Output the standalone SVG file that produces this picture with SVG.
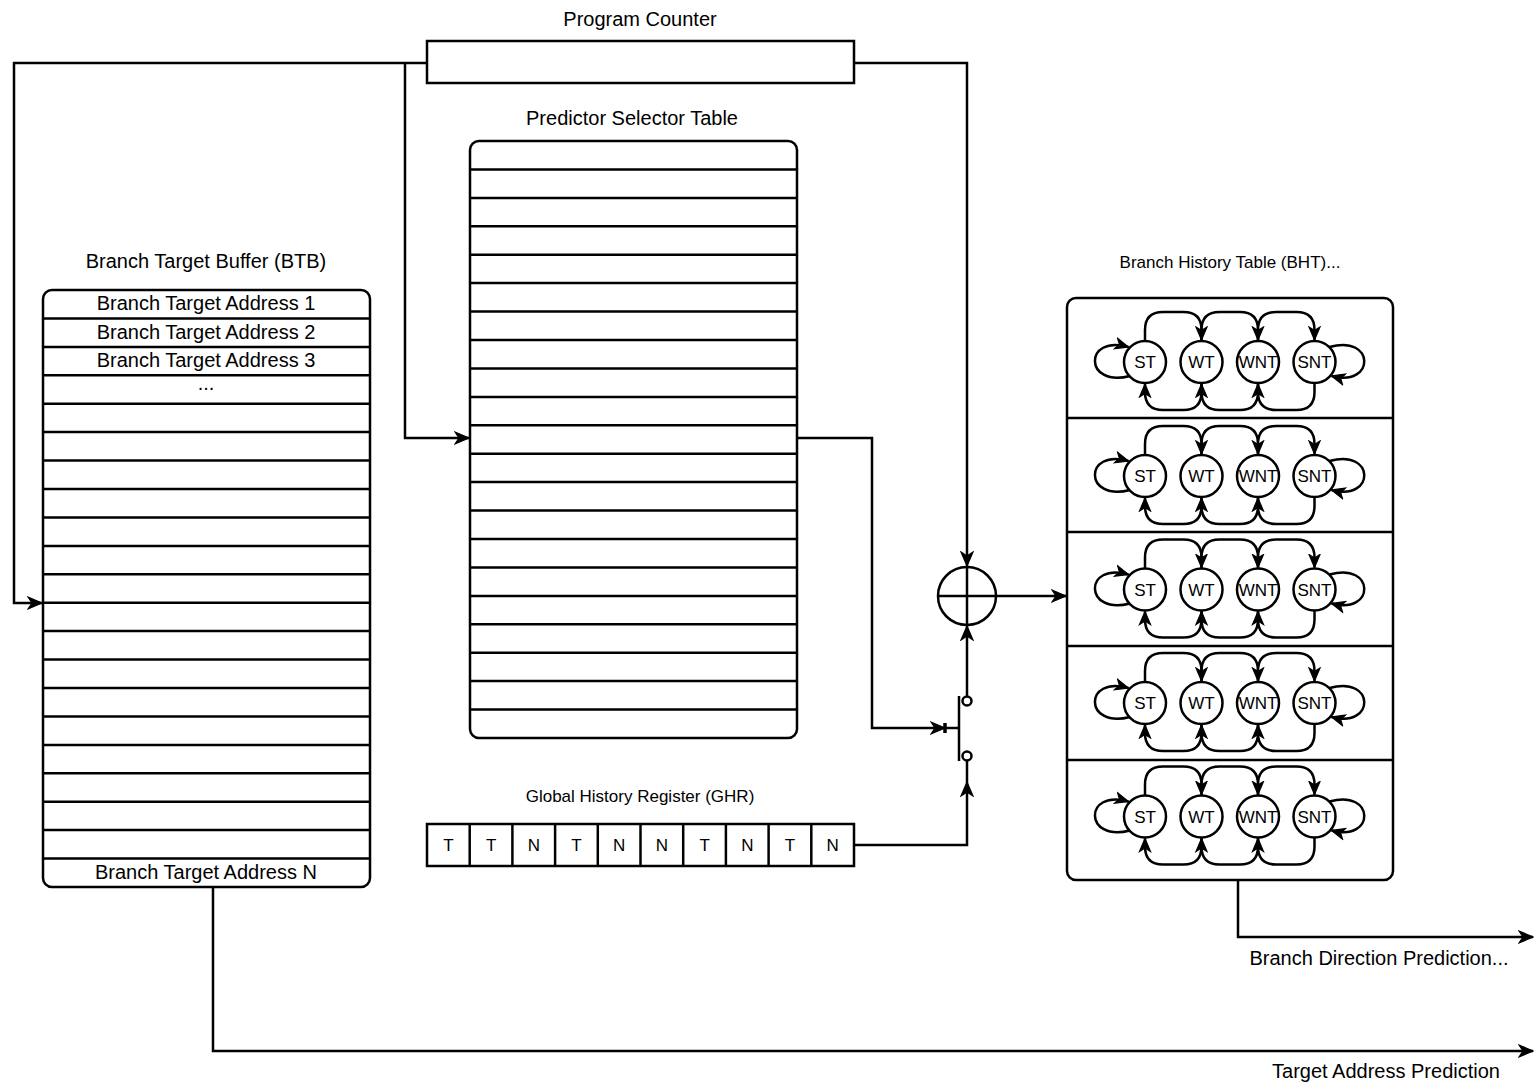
<svg xmlns="http://www.w3.org/2000/svg" width="1534" height="1083" viewBox="0 0 1534 1083">
<style>
.box{fill:#fff;stroke:#000;stroke-width:2.5}
.ln{fill:none;stroke:#000;stroke-width:2.5}
.row{stroke:#000;stroke-width:2.5}
.t20{font-family:"Liberation Sans",Arial,sans-serif;font-size:20px;text-anchor:middle;fill:#000}
.t17{font-family:"Liberation Sans",Arial,sans-serif;font-size:17px;text-anchor:middle;fill:#000}
.st{fill:#fff;stroke:#000;stroke-width:2.5}
</style>
<defs>
<marker id="arr" markerUnits="userSpaceOnUse" markerWidth="18" markerHeight="16" refX="15" refY="8" orient="auto">
<path d="M1,2 L15,8 L1,14 L5,8 Z" fill="#000" stroke="#000" stroke-width="1.2"/>
</marker>
<marker id="arrs" markerUnits="userSpaceOnUse" markerWidth="16" markerHeight="16" refX="14" refY="8" orient="auto">
<path d="M1,2.5 L14,8 L1,13.5 L4.5,8 Z" fill="#000" stroke="#000" stroke-width="1.2"/>
</marker>
<g id="fsm">
<path class="ln" d="M-56.5,-21 V-32 Q-56.5,-50 -38.5,-50 H-18 Q0,-50 0,-32 V-22" marker-end="url(#arrs)"/>
<path class="ln" d="M0,-21 V-32 Q0,-50 18,-50 H38.5 Q56.5,-50 56.5,-32 V-22" marker-end="url(#arrs)"/>
<path class="ln" d="M56.5,-21 V-32 Q56.5,-50 74.5,-50 H95 Q113,-50 113,-32 V-22" marker-end="url(#arrs)"/>
<path class="ln" d="M0,21 V30 Q0,48 -18,48 H-38.5 Q-56.5,48 -56.5,30 V22" marker-end="url(#arrs)"/>
<path class="ln" d="M56.5,21 V30 Q56.5,48 38.5,48 H18 Q0,48 0,30 V22" marker-end="url(#arrs)"/>
<path class="ln" d="M113,21 V30 Q113,48 95,48 H74.5 Q56.5,48 56.5,30 V22" marker-end="url(#arrs)"/>
<path class="ln" d="M-71.5,14 C-118,26 -118,-28 -73,-15" marker-end="url(#arrs)"/>
<path class="ln" d="M128,-15 C174,-28 174,26 130,14" marker-end="url(#arrs)"/>
<circle class="st" cx="-56.5" cy="0" r="21"/>
<circle class="st" cx="0" cy="0" r="21"/>
<circle class="st" cx="56.5" cy="0" r="21"/>
<circle class="st" cx="113" cy="0" r="21"/>
<text class="t17" x="-56.5" y="6">ST</text>
<text class="t17" x="0" y="6">WT</text>
<text class="t17" x="56.5" y="6">WNT</text>
<text class="t17" x="113" y="6">SNT</text>
</g>
</defs>

<g id="connectors">
<path class="ln" d="M427,63 H14 V603 H42" marker-end="url(#arr)"/>
<path class="ln" d="M405,63 V438 H469" marker-end="url(#arr)"/>
<path class="ln" d="M854,63 H967 V566" marker-end="url(#arr)"/>
<path class="ln" d="M797,438 H872 V728 H945" marker-end="url(#arr)"/>
<path class="ln" d="M967,696 V626" marker-end="url(#arr)"/>
<path class="ln" d="M854,845 H967 V782" marker-end="url(#arr)"/>
<path class="ln" d="M996,596 H1066" marker-end="url(#arr)"/>
<path class="ln" d="M1238,880 V937 H1533" marker-end="url(#arr)"/>
<path class="ln" d="M213,887 V1051 H1533" marker-end="url(#arr)"/>
</g>

<g id="program-counter">
<text class="t20" x="640" y="26">Program Counter</text>
<rect class="box" x="427" y="41" width="427" height="42"/>
</g>

<g id="predictor-selector-table">
<text class="t20" x="632" y="125">Predictor Selector Table</text>
<rect class="box" x="470" y="141" width="327" height="597" rx="9"/>
<g class="row">
<line x1="470" y1="169.4" x2="797" y2="169.4"/>
<line x1="470" y1="197.9" x2="797" y2="197.9"/>
<line x1="470" y1="226.3" x2="797" y2="226.3"/>
<line x1="470" y1="254.7" x2="797" y2="254.7"/>
<line x1="470" y1="283.1" x2="797" y2="283.1"/>
<line x1="470" y1="311.6" x2="797" y2="311.6"/>
<line x1="470" y1="340" x2="797" y2="340"/>
<line x1="470" y1="368.4" x2="797" y2="368.4"/>
<line x1="470" y1="396.9" x2="797" y2="396.9"/>
<line x1="470" y1="425.3" x2="797" y2="425.3"/>
<line x1="470" y1="453.7" x2="797" y2="453.7"/>
<line x1="470" y1="482.1" x2="797" y2="482.1"/>
<line x1="470" y1="510.6" x2="797" y2="510.6"/>
<line x1="470" y1="539" x2="797" y2="539"/>
<line x1="470" y1="567.4" x2="797" y2="567.4"/>
<line x1="470" y1="595.9" x2="797" y2="595.9"/>
<line x1="470" y1="624.3" x2="797" y2="624.3"/>
<line x1="470" y1="652.7" x2="797" y2="652.7"/>
<line x1="470" y1="681.1" x2="797" y2="681.1"/>
<line x1="470" y1="709.6" x2="797" y2="709.6"/>
</g>
</g>

<g id="branch-target-buffer">
<text class="t20" x="206" y="268">Branch Target Buffer (BTB)</text>
<rect class="box" x="43" y="290" width="327" height="597" rx="9"/>
<g class="row">
<line x1="43" y1="318.4" x2="370" y2="318.4"/>
<line x1="43" y1="346.9" x2="370" y2="346.9"/>
<line x1="43" y1="375.3" x2="370" y2="375.3"/>
<line x1="43" y1="403.7" x2="370" y2="403.7"/>
<line x1="43" y1="432.1" x2="370" y2="432.1"/>
<line x1="43" y1="460.6" x2="370" y2="460.6"/>
<line x1="43" y1="489" x2="370" y2="489"/>
<line x1="43" y1="517.4" x2="370" y2="517.4"/>
<line x1="43" y1="545.9" x2="370" y2="545.9"/>
<line x1="43" y1="574.3" x2="370" y2="574.3"/>
<line x1="43" y1="602.7" x2="370" y2="602.7"/>
<line x1="43" y1="631.1" x2="370" y2="631.1"/>
<line x1="43" y1="659.6" x2="370" y2="659.6"/>
<line x1="43" y1="688" x2="370" y2="688"/>
<line x1="43" y1="716.4" x2="370" y2="716.4"/>
<line x1="43" y1="744.9" x2="370" y2="744.9"/>
<line x1="43" y1="773.3" x2="370" y2="773.3"/>
<line x1="43" y1="801.7" x2="370" y2="801.7"/>
<line x1="43" y1="830.1" x2="370" y2="830.1"/>
<line x1="43" y1="858.6" x2="370" y2="858.6"/>
</g>
<text class="t20" x="206" y="310">Branch Target Address 1</text>
<text class="t20" x="206" y="339">Branch Target Address 2</text>
<text class="t20" x="206" y="367">Branch Target Address 3</text>
<text class="t20" x="206" y="390">...</text>
<text class="t20" x="206" y="879">Branch Target Address N</text>
</g>

<g id="global-history-register">
<text class="t17" x="640" y="802">Global History Register (GHR)</text>
<rect class="box" x="427" y="824" width="427" height="42"/>
<g class="row">
<line x1="469.7" y1="824" x2="469.7" y2="866"/>
<line x1="512.4" y1="824" x2="512.4" y2="866"/>
<line x1="555.1" y1="824" x2="555.1" y2="866"/>
<line x1="597.8" y1="824" x2="597.8" y2="866"/>
<line x1="640.5" y1="824" x2="640.5" y2="866"/>
<line x1="683.2" y1="824" x2="683.2" y2="866"/>
<line x1="725.9" y1="824" x2="725.9" y2="866"/>
<line x1="768.6" y1="824" x2="768.6" y2="866"/>
<line x1="811.3" y1="824" x2="811.3" y2="866"/>
</g>
<text class="t17" x="448.4" y="851">T</text>
<text class="t17" x="491.1" y="851">T</text>
<text class="t17" x="533.8" y="851">N</text>
<text class="t17" x="576.5" y="851">T</text>
<text class="t17" x="619.2" y="851">N</text>
<text class="t17" x="661.9" y="851">N</text>
<text class="t17" x="704.6" y="851">T</text>
<text class="t17" x="747.3" y="851">N</text>
<text class="t17" x="790" y="851">T</text>
<text class="t17" x="832.7" y="851">N</text>
</g>

<g id="xor">
<circle class="box" cx="967" cy="596" r="29"/>
<line class="ln" x1="938" y1="596" x2="996" y2="596"/>
<line class="ln" x1="967" y1="567" x2="967" y2="625"/>
</g>

<g id="switch">
<line class="ln" x1="959" y1="696" x2="959" y2="761"/>
<line class="ln" x1="945" y1="728" x2="959" y2="728"/>
<line x1="945" y1="723" x2="945" y2="733" stroke="#000" stroke-width="3.5"/>
<line class="ln" x1="967" y1="761" x2="967" y2="782"/>
<circle cx="967" cy="701" r="4.5" fill="#fff" stroke="#000" stroke-width="2.5"/>
<circle cx="967" cy="756" r="4.5" fill="#fff" stroke="#000" stroke-width="2.5"/>
</g>

<g id="branch-history-table">
<text class="t17" x="1230" y="268">Branch History Table (BHT)...</text>
<rect class="box" x="1067" y="298" width="326" height="582" rx="9"/>
<g class="row">
<line x1="1067" y1="418" x2="1393" y2="418"/>
<line x1="1067" y1="532" x2="1393" y2="532"/>
<line x1="1067" y1="646" x2="1393" y2="646"/>
<line x1="1067" y1="760" x2="1393" y2="760"/>
</g>
<use href="#fsm" x="1201.5" y="362"/>
<use href="#fsm" x="1201.5" y="476"/>
<use href="#fsm" x="1201.5" y="589.5"/>
<use href="#fsm" x="1201.5" y="703"/>
<use href="#fsm" x="1201.5" y="816.5"/>
</g>

<g id="labels">
<text class="t20" x="1379" y="965">Branch Direction Prediction...</text>
<text class="t20" x="1386" y="1078">Target Address Prediction</text>
</g>
</svg>
